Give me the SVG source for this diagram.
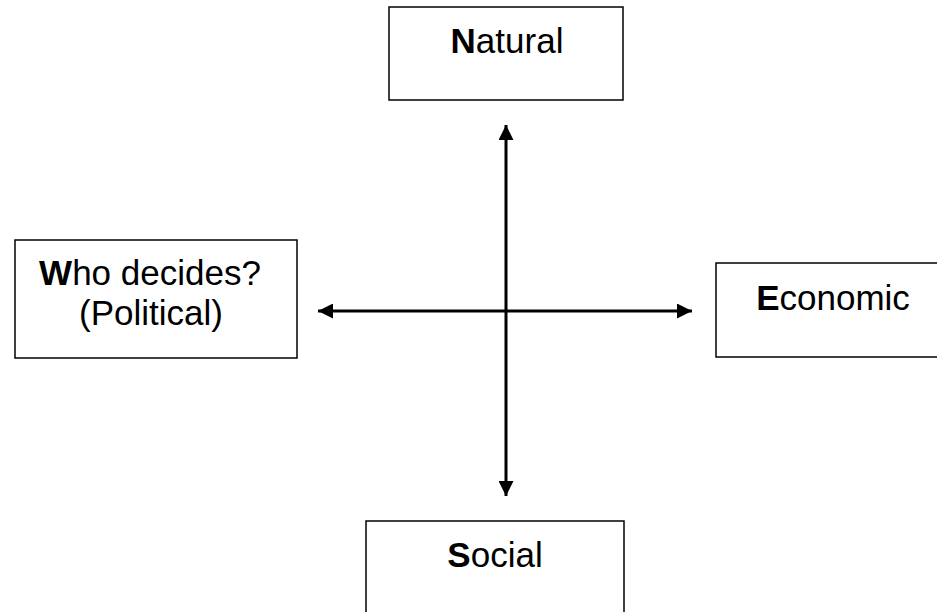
<svg xmlns="http://www.w3.org/2000/svg" width="937" height="612" viewBox="0 0 937 612">
<defs>
<style>
.box{fill:#fff;stroke:#000;stroke-width:1.5}
.t{font-family:"Liberation Sans",Arial,sans-serif;font-size:35px;fill:#000;text-anchor:middle}
.b{font-weight:bold}
.c{stroke:#000;stroke-width:3;fill:none}
</style>
<marker id="ah" viewBox="0 0 10 10" refX="10" refY="5" markerWidth="5" markerHeight="5" markerUnits="strokeWidth" orient="auto-start-reverse">
<path d="M0,0 L10,5 L0,10 z" fill="#000"/>
</marker>
</defs>
<g id="connectors">
<line class="c" x1="506" y1="125" x2="506" y2="496" marker-start="url(#ah)" marker-end="url(#ah)"/>
<line class="c" x1="318" y1="311" x2="692" y2="311" marker-start="url(#ah)" marker-end="url(#ah)"/>
</g>
<g id="natural">
<rect class="box" x="389" y="7" width="234" height="93"/>
<text class="t" x="507" y="53"><tspan class="b">N</tspan>atural</text>
</g>
<g id="political">
<rect class="box" x="15" y="240" width="282" height="118"/>
<text class="t" x="150" y="285"><tspan class="b">W</tspan>ho decides?</text>
<text class="t" x="151" y="325">(Political)</text>
</g>
<g id="economic">
<rect class="box" x="716" y="263" width="240" height="94"/>
<text class="t" x="833" y="310"><tspan class="b">E</tspan>conomic</text>
</g>
<g id="social">
<rect class="box" x="366" y="521" width="258" height="100"/>
<text class="t" x="495" y="567"><tspan class="b">S</tspan>ocial</text>
</g>
</svg>
